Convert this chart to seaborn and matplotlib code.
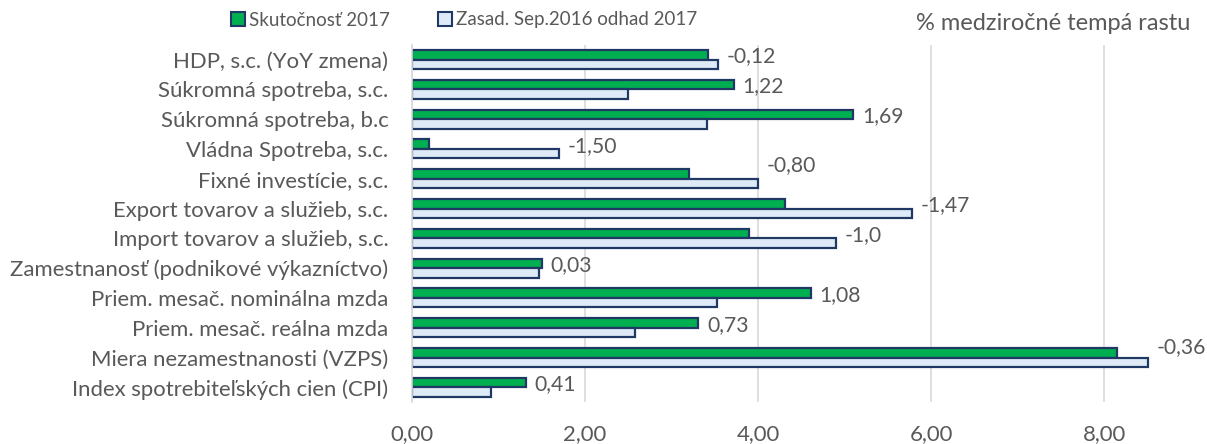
import matplotlib
matplotlib.use("Agg")
import matplotlib.pyplot as plt
import matplotlib.ticker as mticker
from matplotlib.patches import Patch
import seaborn as sns
import pandas as pd

categories = [
    "HDP, s.c. (YoY zmena)",
    "Súkromná spotreba, s.c.",
    "Súkromná spotreba, b.c",
    "Vládna Spotreba, s.c.",
    "Fixné investície, s.c.",
    "Export tovarov a služieb, s.c.",
    "Import tovarov a služieb, s.c.",
    "Zamestnanosť (podnikové výkazníctvo)",
    "Priem. mesač. nominálna mzda",
    "Priem. mesač. reálna mzda",
    "Miera nezamestnanosti (VZPS)",
    "Index spotrebiteľských cien (CPI)",
]
series_names = ["Skutočnosť 2017", "Zasad. Sep.2016 odhad 2017"]
actual_2017 = [3.42, 3.72, 5.10, 0.20, 3.20, 4.31, 3.90, 1.50, 4.61, 3.31, 8.15, 1.32]
forecast_2017 = [3.54, 2.50, 3.41, 1.70, 4.00, 5.78, 4.90, 1.47, 3.53, 2.58, 8.51, 0.91]
diff_labels = ["-0,12", "1,22", "1,69", "-1,50", "-0,80", "-1,47", "-1,0",
               "0,03", "1,08", "0,73", "-0,36", "0,41"]
x_ticks = [0, 2, 4, 6, 8]
unit_text = "% medziročné tempá rastu"

# label vertical nudges (in category units, negative = up)
label_nudge = {4: -0.37, 10: -0.25}

GREEN = "#00B050"
LIGHT = "#DEEBF7"
NAVY = "#1F3864"
GRID = "#D9D9D9"
TXT = "#595959"

sns.set_theme(style="white")
plt.rcParams["font.family"] = ["Lato", "DejaVu Sans"]

df = pd.DataFrame({
    "cat": categories * 2,
    "series": [series_names[0]] * len(categories) + [series_names[1]] * len(categories),
    "value": actual_2017 + forecast_2017,
})

fig = plt.figure(figsize=(12.07, 4.44), dpi=100)
ax = fig.add_axes([412 / 1207, 1 - 402.2 / 444, (1190.5 - 412) / 1207, (402.2 - 44.6) / 444])

sns.barplot(data=df, y="cat", x="value", hue="series", order=categories,
            hue_order=series_names, palette=[GREEN, LIGHT], edgecolor=NAVY,
            linewidth=1.6, width=0.64, orient="y", ax=ax, legend=False,
            errorbar=None, saturation=1)

ax.set_xlim(0, 9)
ax.set_ylim(len(categories) - 0.5, -0.5)
ax.set_xticks(x_ticks)
ax.xaxis.set_major_formatter(mticker.FuncFormatter(lambda v, p: f"{v:.2f}".replace(".", ",")))
ax.grid(axis="x", color=GRID, linewidth=1.2)
ax.set_axisbelow(True)
for s in ["top", "right", "bottom"]:
    ax.spines[s].set_visible(False)
ax.spines["left"].set_color(GRID)
ax.spines["left"].set_linewidth(1.2)
ax.set_xlabel("")
ax.set_ylabel("")
ax.tick_params(axis="y", length=0, pad=17, labelsize=15.9, labelcolor=TXT)
ax.tick_params(axis="x", length=0, pad=16, labelsize=15.9, labelcolor=TXT)

for i, (a, f, lab) in enumerate(zip(actual_2017, forecast_2017, diff_labels)):
    ax.text(max(a, f) + 0.1, i - 0.1 + label_nudge.get(i, 0), lab,
            va="center", ha="left", fontsize=15.2, color=TXT)

handles = [Patch(facecolor=GREEN, edgecolor=NAVY, linewidth=1.5),
           Patch(facecolor=LIGHT, edgecolor=NAVY, linewidth=1.5)]
fig.legend(handles, series_names, loc="center", bbox_to_anchor=(464 / 1207, 1 - 20 / 444),
           ncol=2, frameon=False, fontsize=13.5, handlelength=0.75, handleheight=0.75,
           handletextpad=0.2, columnspacing=2.6, labelcolor=TXT)
fig.text(1190 / 1207, 1 - 24 / 444, unit_text, ha="right", va="center",
         fontsize=17, color=TXT)

fig.savefig("out.png", dpi=100)
